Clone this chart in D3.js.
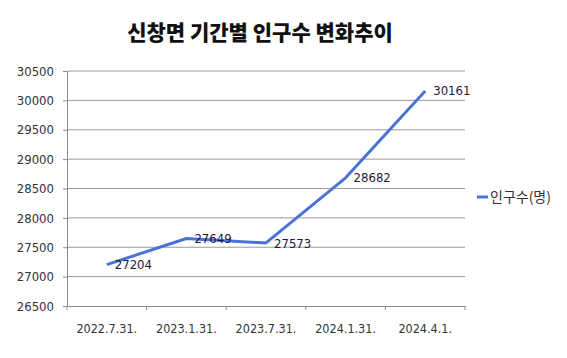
<!DOCTYPE html>
<html><head><meta charset="utf-8">
<script src="https://cdn.jsdelivr.net/npm/d3@7"></script>
<style>body{margin:0;background:#fff}svg{display:block}</style>
</head><body>
<svg id="c" width="567" height="358"></svg>
<script>
const categories = ["2022.7.31.", "2023.1.31.", "2023.7.31.", "2024.1.31.", "2024.4.1."];
const population = [27204, 27649, 27573, 28682, 30161];
const yTicks = [26500, 27000, 27500, 28000, 28500, 29000, 29500, 30000, 30500];
const seriesName = "인구수(명)";
const title = "신창면 기간별 인구수 변화추이";

const svg = d3.select("#c");
const m = {l: 67, r: 465, t: 71, b: 306};
const x = d3.scaleBand().domain(categories).range([m.l, m.r]);
const y = d3.scaleLinear().domain([26500, 30500]).range([m.b, m.t]);
const font = "'Noto Sans CJK KR', sans-serif";
const numFont = "'DejaVu Sans Condensed', 'DejaVu Sans', sans-serif";

svg.append("text").attr("x", 260).attr("y", 40).attr("text-anchor", "middle")
  .attr("font-family", font).attr("font-weight", 900).attr("font-size", 21)
  .attr("fill", "#111").text(title);

// gridlines
svg.append("g").selectAll("line").data(yTicks.slice(1)).join("line")
  .attr("x1", m.l).attr("x2", m.r).attr("y1", d => y(d)).attr("y2", d => y(d))
  .attr("stroke", "#9a9a9a").attr("stroke-width", 1);

const yAxis = svg.append("g").attr("transform", `translate(${m.l},0)`)
  .call(d3.axisLeft(y).tickValues(yTicks).tickSize(4).tickPadding(9).tickFormat(d3.format("d")));
yAxis.select(".domain").attr("stroke", "#8a8a8a");
yAxis.selectAll(".tick line").attr("stroke", "#8a8a8a");
yAxis.selectAll("text").attr("font-family", numFont).attr("font-size", 13).attr("fill", "#333");

const xAxis = svg.append("g").attr("transform", `translate(0,${m.b})`)
  .call(d3.axisBottom(x).tickSize(0).tickPadding(18));
xAxis.select(".domain").attr("stroke", "#8a8a8a");
xAxis.selectAll("text").attr("font-family", numFont).attr("font-size", 12.5).attr("fill", "#333");
// category boundary ticks
svg.append("g").selectAll("line").data(categories.concat(["end"])).join("line")
  .attr("x1", (d, i) => m.l + i * x.bandwidth()).attr("x2", (d, i) => m.l + i * x.bandwidth())
  .attr("y1", m.b).attr("y2", m.b + 4).attr("stroke", "#8a8a8a");

const px = d => x(d) + x.bandwidth() / 2;
svg.append("path").datum(population)
  .attr("d", d3.line().x((d, i) => px(categories[i])).y(d => y(d)))
  .attr("fill", "none").attr("stroke", "#4a72d8").attr("stroke-width", 3)
  .attr("stroke-linejoin", "round");

svg.append("g").selectAll("text").data(population).join("text")
  .attr("x", (d, i) => px(categories[i]) + 8).attr("y", d => y(d))
  .attr("dy", "0.35em").attr("font-family", numFont).attr("font-size", 13)
  .attr("fill", "#1a1a3a").text(d => d);

// legend
svg.append("line").attr("x1", 477).attr("x2", 488).attr("y1", 197).attr("y2", 197)
  .attr("stroke", "#4a72d8").attr("stroke-width", 3);
svg.append("text").attr("x", 490).attr("y", 197).attr("dy", "0.35em")
  .attr("font-family", font).attr("font-size", 14).attr("fill", "#333").text(seriesName);
</script>
</body></html>
